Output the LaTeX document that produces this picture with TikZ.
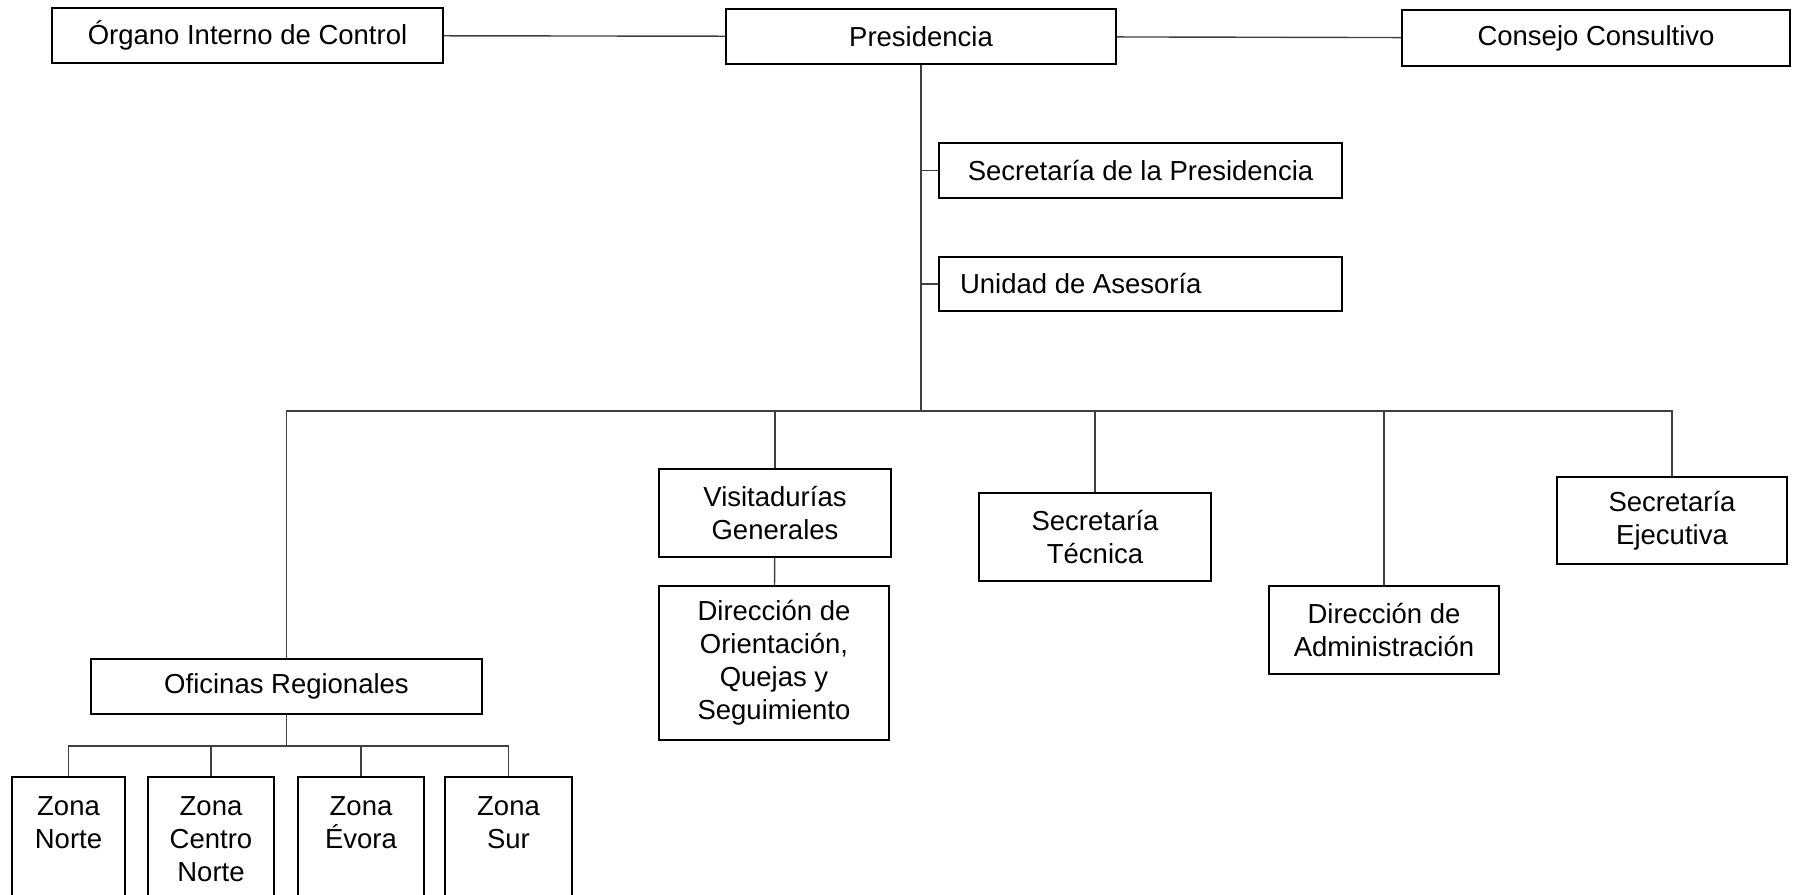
\documentclass[tikz,border=0pt]{standalone}
\usepackage{fontspec}
\setmainfont{Liberation Sans}
\begin{document}
\begin{tikzpicture}[x=0.5pt,y=-0.5pt,
    chart/.style={draw=black,line width=1pt,font=\fontsize{13.75}{16.5}\selectfont},
    unit/.style={chart,inner sep=1pt,align=center},
    zona/.style={chart,anchor=north,inner xsep=1pt,inner ysep=9.6pt},
    link/.style={draw=black!75,line width=0.7pt}]
  \useasboundingbox (0,0) rectangle (1797,894);
  \draw
    (247.5,35.5) node[unit,minimum width=195.5pt,minimum height=27.5pt] (organo){Órgano Interno de Control}
    (921,36.5) node[unit,minimum width=195pt,minimum height=27.5pt] (presid){Presidencia}
    (1596,38) node[unit,minimum width=194pt,minimum height=28pt] (consejo){Consejo Consultivo}
    (1140.5,170.5) node[unit,minimum width=201.5pt,minimum height=27.5pt] (secpres){Secretaría de la Presidencia}
    (1140.5,284) node[unit,align=flush left,text width=180.5pt,inner xsep=10.5pt,minimum height=27pt] (unidad){Unidad de Asesoría}
    (775,513) node[unit,minimum width=116pt,minimum height=44pt] (visit){Visitadurías\\Generales}
    (774,663) node[unit,minimum width=115pt,minimum height=77pt] (dirorient){Dirección de\\Orientación,\\Quejas y\\Seguimiento}
    (1095,537) node[unit,minimum width=116pt,minimum height=44pt] (sectec){Secretaría\\Técnica}
    (1384,630) node[unit,minimum width=115pt,minimum height=44pt] (diradmin){Dirección de\\Administración}
    (1672,520.5) node[unit,minimum width=115pt,minimum height=43.5pt] (secejec){Secretaría\\Ejecutiva}
    (286.5,686.5) node[unit,minimum width=195.5pt,minimum height=27.5pt] (oficinas){Oficinas Regionales}
    (68.5,776) node[zona,minimum width=56.5pt] (znorte){\parbox[t][130pt][t]{50pt}{\centering Zona\\Norte}}
    (211,776) node[zona,minimum width=63pt] (zcentro){\parbox[t][130pt][t]{56pt}{\centering Zona\\Centro\\Norte}}
    (361,776) node[zona,minimum width=63pt] (zevora){\parbox[t][130pt][t]{56pt}{\centering Zona\\Évora}}
    (508.5,776) node[zona,minimum width=63.5pt] (zsur){\parbox[t][130pt][t]{56pt}{\centering Zona\\Sur}};
  \coordinate (bus) at (921,411);
  \coordinate (zonas) at (286.5,746);
  \begin{scope}[link]
    \draw (organo) to (presid);
    \draw (presid) to (consejo);
    \draw (presid.south) to (bus);
    \draw (secpres.west) to (secpres.west -| bus);
    \draw (unidad.west) to (unidad.west -| bus);
    \draw (bus) -| (oficinas.north);
    \draw (bus) -| (secejec.north);
    \draw (visit.north) to (visit.north |- bus);
    \draw (sectec.north) to (sectec.north |- bus);
    \draw (diradmin.north) to (diradmin.north |- bus);
    \draw (visit) to (dirorient);
    \draw (oficinas.south) to (zonas);
    \draw (zonas) -| (znorte.north);
    \draw (zonas) -| (zsur.north);
    \draw (zcentro.north) to (zcentro.north |- zonas);
    \draw (zevora.north) to (zevora.north |- zonas);
  \end{scope}
\end{tikzpicture}
\end{document}
